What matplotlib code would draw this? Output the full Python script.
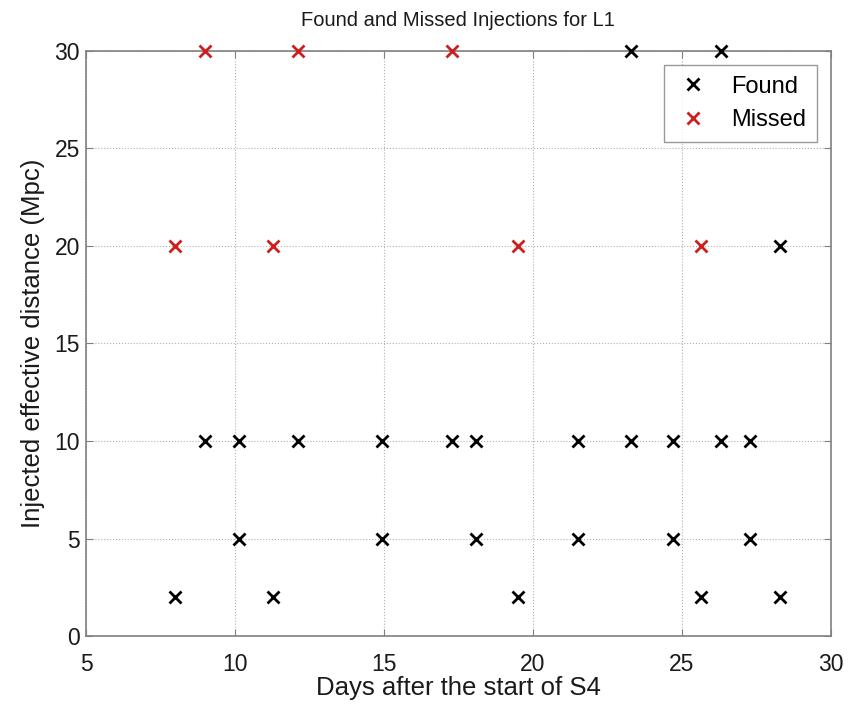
import matplotlib
matplotlib.use("Agg")
import matplotlib.pyplot as plt

# injection days / distances
found_days = [23.3, 26.3,
              28.3,
              9.0, 10.15, 12.1, 14.95, 17.3, 18.1, 21.5, 23.3, 24.7, 26.3, 27.3,
              10.15, 14.95, 18.1, 21.5, 24.7, 27.3,
              8.0, 11.27, 19.5, 25.65, 28.3]
found_dist = [30, 30,
              20,
              10, 10, 10, 10, 10, 10, 10, 10, 10, 10, 10,
              5, 5, 5, 5, 5, 5,
              2, 2, 2, 2, 2]

missed_days = [9.0, 12.1, 17.3, 8.0, 11.27, 19.5, 25.65]
missed_dist = [30, 30, 30, 20, 20, 20, 20]

x_ticks = [5, 10, 15, 20, 25, 30]
y_ticks = [0, 5, 10, 15, 20, 25, 30]

plt.rcParams["font.family"] = ["Liberation Sans", "DejaVu Sans"]

fig = plt.figure(figsize=(8.6, 7.06), dpi=100)
ax = fig.add_axes([0.100, 0.099, 0.866, 0.829])

ax.plot(found_days, found_dist, linestyle="none", marker="x", color="black",
        markersize=9, markeredgewidth=2.0, label="Found", clip_on=False, zorder=3)
ax.plot(missed_days, missed_dist, linestyle="none", marker="x", color="#cc2020",
        markersize=9, markeredgewidth=2.0, label="Missed", clip_on=False, zorder=3)

ax.set_xlim(5, 30)
ax.set_ylim(0, 30)
ax.set_xticks(x_ticks)
ax.set_yticks(y_ticks)
ax.grid(True, linestyle=":", color="#b0b0b0", linewidth=0.8)
ax.set_axisbelow(True)

for sp in ax.spines.values():
    sp.set_color("#808080")
    sp.set_linewidth(1.2)
ax.tick_params(direction="in", length=5, color="#808080", labelsize=16.5,
               top=True, right=True, labelcolor="#1a1a1a")
ax.tick_params(axis="x", pad=12)
ax.tick_params(axis="y", pad=4.5)

ax.set_title("Found and Missed Injections for L1", fontsize=14.5, pad=18,
             color="#1a1a1a")
ax.set_xlabel("Days after the start of S4", fontsize=18.5, labelpad=0,
              color="#1a1a1a")
ax.set_ylabel("Injected effective distance (Mpc)", fontsize=18.5, labelpad=7,
              color="#1a1a1a")

leg = ax.legend(loc="upper right", fontsize=17, frameon=True, fancybox=False,
                edgecolor="#808080", borderaxespad=0.6, handletextpad=0.8,
                handlelength=1.6, labelspacing=0.5, borderpad=0.45)
leg.get_frame().set_linewidth(1.0)

fig.savefig("out.png", dpi=100)
